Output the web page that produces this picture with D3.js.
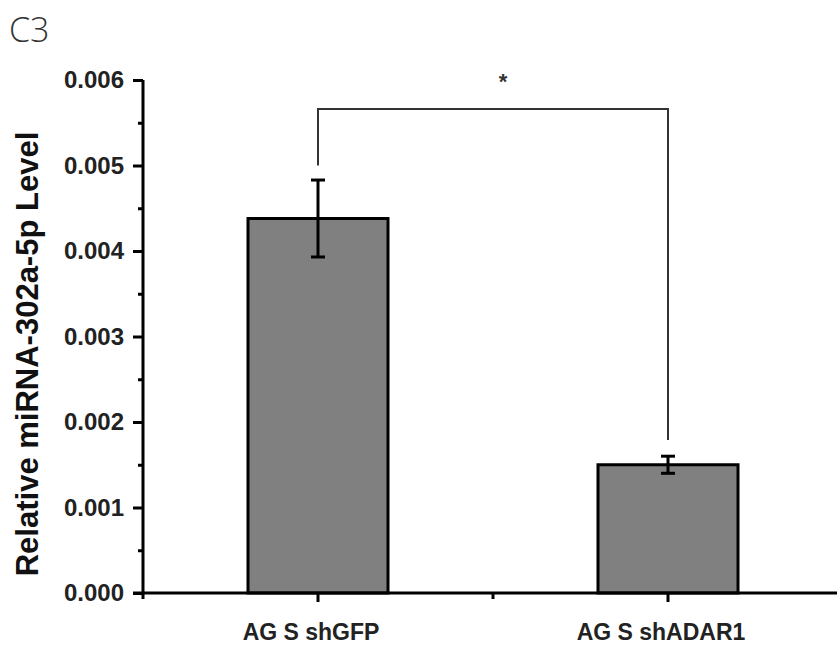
<!DOCTYPE html>
<html>
<head>
<meta charset="utf-8">
<script src="https://cdn.jsdelivr.net/npm/d3@7/dist/d3.min.js"></script>
<style>
  html, body { margin: 0; padding: 0; background: #fff; }
  svg { display: block; }
</style>
</head>
<body>
<svg id="chart" width="837" height="648"></svg>
<script>
// ---- data ----
const categories = ["AG S shGFP", "AG S shADAR1"];
const values = [0.00438, 0.00150];
const errors = [0.00045, 0.00010];
const yTicks = [0.000, 0.001, 0.002, 0.003, 0.004, 0.005, 0.006];
const yMinorTicks = [0.0005, 0.0015, 0.0025, 0.0035, 0.0045, 0.0055];
const yLabel = "Relative miRNA-302a-5p Level";
const panelLabel = "C3";
// significance bracket: [left leg bottom, bracket top, right leg bottom]
const bracketLevels = [0.00500, 0.00566, 0.00179];
const sigMark = "*";

// ---- layout ----
const svg = d3.select("#chart");
const x0 = 143, x1 = 843, yTop = 80, yBottom = 593;

const x = d3.scaleBand().domain(categories).range([x0, x1])
  .paddingInner(0.6).paddingOuter(0.3);
const y = d3.scaleLinear().domain([0, 0.006]).range([yBottom, yTop]);

const font = "'Liberation Sans', Arial, sans-serif";

// bars
svg.selectAll("rect.bar").data(categories).enter().append("rect")
  .attr("class", "bar")
  .attr("x", d => x(d))
  .attr("width", x.bandwidth())
  .attr("y", (d, i) => y(values[i]))
  .attr("height", (d, i) => y(0) - y(values[i]))
  .attr("fill", "#808080")
  .attr("stroke", "#000")
  .attr("stroke-width", 3);

// error bars
const eb = svg.selectAll("g.err").data(categories).enter().append("g")
  .attr("class", "err")
  .attr("stroke", "#000").attr("stroke-width", 3);
const cx = d => x(d) + x.bandwidth() / 2;
eb.append("line")
  .attr("x1", cx).attr("x2", cx)
  .attr("y1", (d, i) => y(values[i] + errors[i]))
  .attr("y2", (d, i) => y(values[i] - errors[i]));
eb.append("line")
  .attr("x1", d => cx(d) - 7).attr("x2", d => cx(d) + 7)
  .attr("y1", (d, i) => y(values[i] + errors[i]))
  .attr("y2", (d, i) => y(values[i] + errors[i]));
eb.append("line")
  .attr("x1", d => cx(d) - 7).attr("x2", d => cx(d) + 7)
  .attr("y1", (d, i) => y(values[i] - errors[i]))
  .attr("y2", (d, i) => y(values[i] - errors[i]));

// y axis
const yAxis = d3.axisLeft(y).tickValues(yTicks)
  .tickFormat(d3.format(".3f")).tickSize(10).tickPadding(9);
const gy = svg.append("g").attr("transform", `translate(${x0},0)`).call(yAxis);
gy.select(".domain").attr("stroke-width", 3).attr("d", `M0,${yTop}V${yBottom}`);
gy.selectAll(".tick line").attr("stroke-width", 3);
gy.selectAll(".tick text")
  .attr("font-family", font).attr("font-weight", "bold")
  .attr("font-size", 24).attr("fill", "#222");
const yMinor = d3.axisLeft(y).tickValues(yMinorTicks).tickSize(5).tickFormat("");
const gym = svg.append("g").attr("transform", `translate(${x0},0)`).call(yMinor);
gym.select(".domain").remove();
gym.selectAll(".tick line").attr("stroke-width", 3);

// x axis
const gx = svg.append("g").attr("transform", `translate(0,${yBottom})`);
gx.append("line").attr("x1", x0 - 10).attr("x2", 837)
  .attr("stroke", "#000").attr("stroke-width", 3);
const xMinorPos = [x0, x(categories[1]) - x.step() * x.paddingInner() / 2];
gx.selectAll("line.minor").data(xMinorPos).enter().append("line")
  .attr("class", "minor").attr("x1", d => d).attr("x2", d => d)
  .attr("y1", 0).attr("y2", 6).attr("stroke", "#000").attr("stroke-width", 3);
gx.selectAll("line.major").data(categories).enter().append("line")
  .attr("class", "major").attr("x1", cx).attr("x2", cx)
  .attr("y1", 0).attr("y2", 9).attr("stroke", "#000").attr("stroke-width", 3);
gx.selectAll("text").data(categories).enter().append("text")
  .attr("x", d => cx(d) - 7).attr("y", 47)
  .attr("text-anchor", "middle")
  .attr("font-family", font).attr("font-weight", "bold")
  .attr("font-size", 23).attr("fill", "#222")
  .text(d => d);

// y label
svg.append("text")
  .attr("transform", `translate(38,${354}) rotate(-90)`)
  .attr("text-anchor", "middle")
  .attr("font-family", font).attr("font-weight", "bold")
  .attr("font-size", 31).attr("fill", "#111")
  .text(yLabel);

// panel label
svg.append("text")
  .attr("x", 9).attr("y", 42)
  .attr("font-family", "'Open Sans', 'Noto Sans', sans-serif")
  .attr("font-weight", 300)
  .attr("font-size", 34).attr("fill", "#333")
  .text(panelLabel);

// significance bracket
const bxL = cx(categories[0]), bxR = cx(categories[1]);
svg.append("path")
  .attr("d", `M${bxL},${y(bracketLevels[0])}V${y(bracketLevels[1])}H${bxR}V${y(bracketLevels[2])}`)
  .attr("fill", "none").attr("stroke", "#333").attr("stroke-width", 2);
svg.append("text")
  .attr("x", (bxL + bxR) / 2 + 10).attr("y", y(bracketLevels[1]) - 20)
  .attr("text-anchor", "middle")
  .attr("font-family", font).attr("font-weight", "bold")
  .attr("font-size", 22).attr("fill", "#333")
  .text(sigMark);
</script>
</body>
</html>
